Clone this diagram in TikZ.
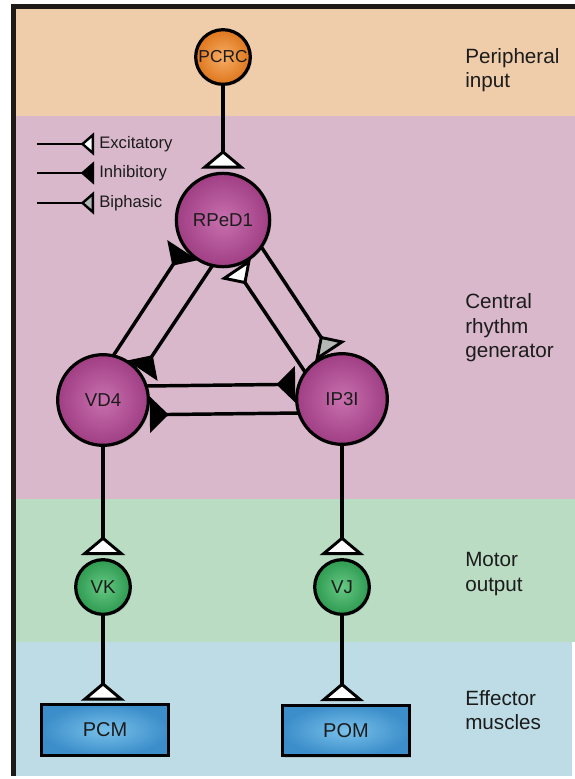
\documentclass[tikz,border=0pt]{standalone}
\usepackage{fontspec}
\setmainfont{Liberation Sans}
\usetikzlibrary{arrows.meta,shadows,calc}
\definecolor{peach}{HTML}{EFCDAA}
\definecolor{mauve}{HTML}{D9B8CB}
\definecolor{mint}{HTML}{B9DCC3}
\definecolor{sky}{HTML}{BDDCE5}
\definecolor{frame}{HTML}{1E1A18}
\definecolor{ink}{HTML}{1C1C1C}
\definecolor{biph}{HTML}{B4B8B4}
\definecolor{orgIn}{HTML}{F6AD66}
\definecolor{orgOut}{HTML}{DE761C}
\definecolor{purIn}{HTML}{C870AE}
\definecolor{purOut}{HTML}{A03E84}
\definecolor{grnIn}{HTML}{66C884}
\definecolor{grnOut}{HTML}{2E9A50}
\definecolor{bluIn}{HTML}{78C0EA}
\definecolor{bluOut}{HTML}{3C8ECA}
\tikzset{
  cell/.style={circle, draw=black, line width=2.4pt, inner sep=0pt, outer sep=0pt,
    text=ink, font=\fontsize{14}{16}\selectfont,
    drop shadow={opacity=0.25, shadow xshift=1.3pt, shadow yshift=-1.3pt}},
  orangecell/.style={cell, shading=radial, inner color=orgIn, outer color=orgOut,
    minimum size=41pt, font=\fontsize{13}{15}\selectfont},
  purplecell/.style={cell, shading=radial, inner color=purIn, outer color=purOut},
  greencell/.style={cell, shading=radial, inner color=grnIn, outer color=grnOut, minimum size=41pt},
  muscle/.style={rectangle, draw=black, line width=2.4pt, inner sep=0pt, outer sep=0pt,
    shading=radial, inner color=bluIn, outer color=bluOut,
    minimum width=95pt, minimum height=38pt, text=ink, font=\fontsize{15}{17}\selectfont,
    drop shadow={opacity=0.25, shadow xshift=1.3pt, shadow yshift=-1.3pt}},
  sidelabel/.style={anchor=west, align=left, inner sep=0pt, text=ink,
    font=\fontsize{15.5}{18.4}\selectfont},
  legendlabel/.style={anchor=west, inner sep=0pt, text=ink, font=\fontsize{12.5}{14}\selectfont},
  link/.style={draw=black, line width=2.6pt, shorten >=3pt},
  tipbig/.style={-{Triangle[reversed, width=33pt, length=14pt, line width=2.2pt, fill=#1]}},
  tipmid/.style={-{Triangle[reversed, width=27pt, length=14pt, line width=2.2pt, fill=#1]}},
  tipsmall/.style={-{Triangle[reversed, width=17pt, length=10pt, line width=1.8pt, fill=#1]}},
}
\begin{document}
\begin{tikzpicture}[x=0.75pt, y=-0.75pt]
\useasboundingbox (0,0) rectangle (575,779);
\fill[white] (0,0) rectangle (575,779);
% bands
\fill[peach] (15,8) rectangle (575,116);
\fill[mauve] (15,116) rectangle (575,499);
\fill[mint] (15,499) rectangle (575,642);
\fill[sky] (15,642) rectangle (572,776);
\fill[frame] (11,4) rectangle (575,8.5);
\fill[frame] (11,4) rectangle (15.5,776);

% side labels
\node[sidelabel] (lblPI) at (465,70) {Peripheral\\input};
\node[sidelabel] (lblCRG) at (465,328) {Central\\rhythm\\generator};
\node[sidelabel] (lblMO) at (465,574) {Motor\\output};
\node[sidelabel] (lblEM) at (465,710) {Effector\\muscles};

% cells
\node[orangecell] (PCRC) at (223,57) {PCRC};
\node[purplecell, minimum size=70pt] (RPeD1) at (223,220) {RPeD1};
\node[purplecell, minimum size=68pt] (VD4) at (103,400) {VD4};
\node[purplecell, minimum size=68pt] (IP3I) at (342,399) {IP3I};
\node[greencell] (VK) at (103,587) {VK};
\node[greencell] (VJ) at (342,587) {VJ};
\node[muscle] (PCM) at (105,730) {PCM};
\node[muscle] (POM) at (346,730.5) {POM};

% vertical excitatory pathways
\draw[link, tipbig=white, shorten >=3.5pt] (PCRC) -- (RPeD1);
\draw[link, tipbig=white, shorten >=3.5pt] (VD4) -- (VK);
\draw[link, tipbig=white, shorten >=3.5pt] (IP3I) -- (VJ);
\draw[link, tipbig=white, shorten >=3pt] (VK.south) -- (VK.south |- PCM.north);
\draw[link, tipbig=white, shorten >=3pt] (VJ.south) -- (VJ.south |- POM.north);

% central network
\draw[link, tipmid=black] (VD4.77.5) -- (RPeD1.215.6);
\draw[link, tipmid=black] (RPeD1.257) -- (VD4.35.1);
\draw[link, tipmid=biph] (RPeD1.-35.7) -- (IP3I.102.4);
\draw[link, tipmid=white] (IP3I.144.8) -- (RPeD1.-77.1);
\draw[link, tipmid=black] (VD4.18.6) -- (IP3I.161.4);
\draw[link, tipmid=black] (IP3I.198.6) -- (VD4.341.4);

% legend
\coordinate (exA) at (37,144); \coordinate (exB) at (94,144);
\coordinate (inA) at (37,173); \coordinate (inB) at (94,173);
\coordinate (biA) at (37,203); \coordinate (biB) at (94,203);
\draw[line width=1.8pt, tipsmall=white] (exA) -- (exB);
\draw[line width=1.8pt, tipsmall=black] (inA) -- (inB);
\draw[line width=1.8pt, tipsmall=biph] (biA) -- (biB);
\node[legendlabel] (lgEx) at (99,144) {Excitatory};
\node[legendlabel] (lgIn) at (99,173) {Inhibitory};
\node[legendlabel] (lgBi) at (99,203) {Biphasic};
\end{tikzpicture}
\end{document}
